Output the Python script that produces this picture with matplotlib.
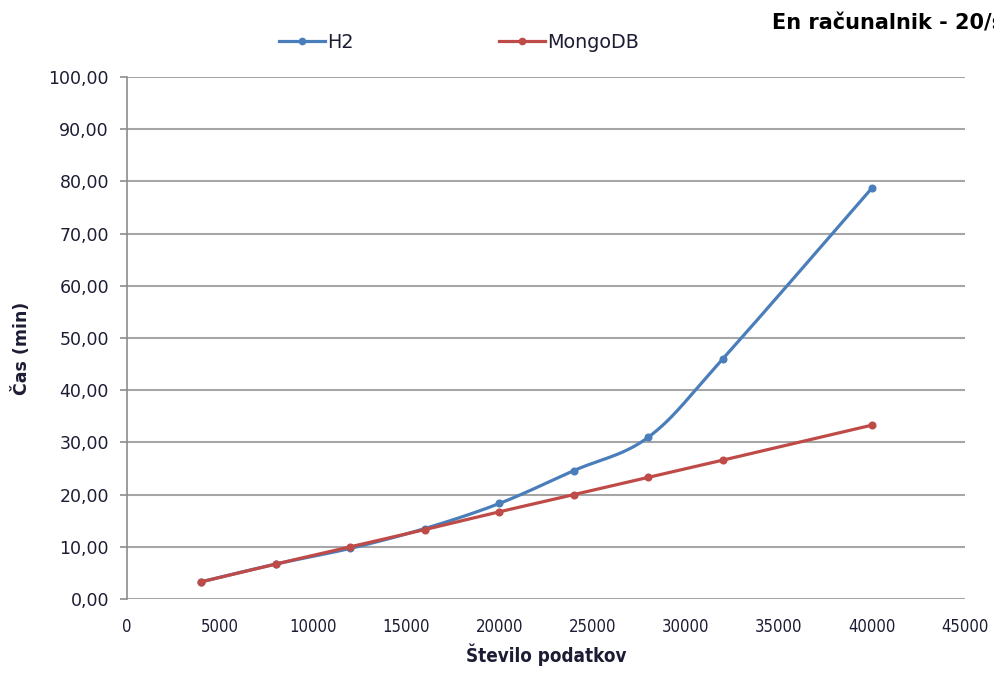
import numpy as np
import matplotlib
matplotlib.use("Agg")
import matplotlib.pyplot as plt
from matplotlib.ticker import FuncFormatter, MultipleLocator

# measurements
n_rows = [4000, 8000, 12000, 16000, 20000, 24000, 28000, 32000, 40000]
h2_min = [3.3, 6.7, 9.7, 13.5, 18.3, 24.6, 31.0, 46.0, 78.7]
mongo_min = [3.3, 6.7, 10.0, 13.3, 16.7, 20.0, 23.3, 26.6, 33.3]

title = "En računalnik - 20/s"
blue = "#4a7ebb"
red = "#be4b48"
txt = "#1c1c34"


def smooth(ax, xs, ys, steps=30):
    # bezier smoothing in screen space, like a spreadsheet "smoothed line"
    pts = ax.transData.transform(np.column_stack([xs, ys]))
    out = [pts[0]]
    n = len(pts)
    for i in range(n - 1):
        p0 = pts[max(i - 1, 0)]
        p1 = pts[i]
        p2 = pts[i + 1]
        p3 = pts[min(i + 2, n - 1)]
        c1 = p1 + (p2 - p0) / 6.0
        c2 = p2 - (p3 - p1) / 6.0
        t = np.linspace(0, 1, steps)[1:, None]
        seg = ((1 - t) ** 3) * p1 + 3 * ((1 - t) ** 2) * t * c1 + 3 * (1 - t) * t ** 2 * c2 + t ** 3 * p2
        out.extend(seg)
    out = ax.transData.inverted().transform(np.array(out))
    return out[:, 0], out[:, 1]


fig = plt.figure(figsize=(9.95, 6.74), dpi=100)
ax = fig.add_axes([0.1276, 0.1113, 0.8422, 0.7745])
ax.set_xlim(0, 45000)
ax.set_ylim(0, 100)

ax.yaxis.set_major_locator(MultipleLocator(10))
ax.xaxis.set_major_locator(MultipleLocator(5000))
ax.yaxis.set_major_formatter(FuncFormatter(lambda v, p: f"{v:.2f}".replace(".", ",")))
ax.grid(axis="y", color="#a6a6a6", linewidth=1.5)
ax.set_axisbelow(True)
for s in ["top", "right", "bottom"]:
    ax.spines[s].set_visible(False)
ax.spines["left"].set_color("#8c8c8c")
ax.spines["left"].set_linewidth(1.2)
ax.tick_params(axis="y", length=5, width=1.2, color="#8c8c8c", labelsize=12.5, labelcolor=txt, pad=8)
ax.tick_params(axis="x", length=0, labelsize=12, labelcolor=txt, pad=14)
for lab in ax.get_xticklabels():
    lab.set_fontstretch("condensed")

for ys, col, name in [(h2_min, blue, "H2"), (mongo_min, red, "MongoDB")]:
    sx, sy = smooth(ax, n_rows, ys)
    ax.plot(sx, sy, color=col, lw=2.3, solid_capstyle="round")
    ax.plot(n_rows, ys, "o", color=col, ms=4.8)
    ax.plot([], [], color=col, lw=2.3, marker="o", ms=4.5, label=name)

ax.set_ylabel("Čas (min)", fontsize=12.5, fontweight="bold", color=txt)
ax.yaxis.set_label_coords(-0.115, 0.48)
ax.set_xlabel("Število podatkov", fontsize=13.5, fontweight="bold", color=txt,
              fontstretch="condensed", labelpad=5)

leg = ax.legend(loc="center left", bbox_to_anchor=(0.1725, 1.066), ncol=2, frameon=False,
                fontsize=13.8, handlelength=2.4, handletextpad=0.1, columnspacing=7.6,
                borderaxespad=0)
for t in leg.get_texts():
    t.set_color(txt)

# header runs off the right edge of the canvas
fig.text(0.776, 0.965, title, fontsize=15, fontweight="bold", color="black", va="center")

fig.savefig("out.png", dpi=100, facecolor="white")
